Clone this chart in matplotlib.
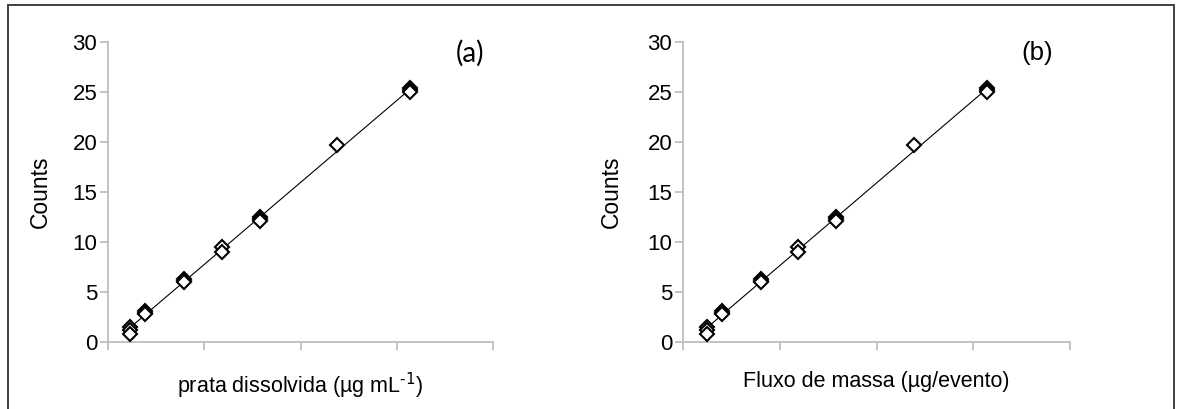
import numpy as np
import matplotlib
matplotlib.use("Agg")
import matplotlib.pyplot as plt
from matplotlib.patches import Rectangle

plt.rcParams['font.family'] = ['Liberation Sans', 'DejaVu Sans']

# Calibration data: replicate measurements at each level
conc_a = [0.23, 0.23, 0.23, 0.38, 0.38, 0.38, 0.79, 0.79, 0.79,
          1.18, 1.18, 1.58, 1.58, 1.58, 2.38, 3.14, 3.14, 3.14]
flux_b = [0.25, 0.25, 0.25, 0.40, 0.40, 0.40, 0.81, 0.81, 0.81,
          1.19, 1.19, 1.58, 1.58, 1.58, 2.39, 3.14, 3.14, 3.14]
counts = [1.5, 1.2, 0.8, 3.1, 2.9, 2.8, 6.3, 6.1, 6.0,
          9.5, 9.0, 12.5, 12.3, 12.1, 19.7, 25.4, 25.2, 25.0]

y_ticks = [0, 5, 10, 15, 20, 25, 30]
x_ticks = [0, 1, 2, 3, 4]

W, H = 1178, 409
fig = plt.figure(figsize=(W / 100, H / 100), dpi=100)

def px_axes(x0, x1, y0, y1):
    return fig.add_axes([x0 / W, 1 - y1 / H, (x1 - x0) / W, (y1 - y0) / H])

ax_a = px_axes(108, 493, 42, 342)
ax_b = px_axes(683, 1070, 42, 342)

panels = [
    (ax_a, conc_a, r'prata dissolvida (µg mL$^{\text{-1}}$)', '(a)',
     ['Lato'], 20, 0.94, -0.145),
    (ax_b, flux_b, 'Fluxo de massa (µg/evento)', '(b)',
     ['Liberation Sans'], 18.5, 0.915, -0.155),
]

spine_c = '#BEBEBE'
fs = 15.5
for ax, xv, xlabel, tag, tag_font, tag_size, tag_x, ylab_x in panels:
    xv = np.asarray(xv)
    yv = np.asarray(counts)
    slope, icpt = np.polyfit(xv, yv, 1)
    xs = np.array([xv.min(), xv.max()])
    ax.plot(xs, slope * xs + icpt, color='black', lw=0.8, zorder=2)
    ax.plot(xv, yv, linestyle='none', marker='D', ms=7.5, mfc='white',
            mec='black', mew=1.5, zorder=3)

    ax.set_xlim(0, 4)
    ax.set_ylim(0, 30)
    ax.set_xticks(x_ticks)
    ax.set_xticklabels([])
    ax.set_yticks(y_ticks)
    ax.tick_params(axis='both', direction='out', length=5.8, width=1.3,
                   color=spine_c, labelsize=fs + 0.5, pad=2.0)
    for s in ('top', 'right'):
        ax.spines[s].set_visible(False)
    for s in ('left', 'bottom'):
        ax.spines[s].set_color(spine_c)
        ax.spines[s].set_linewidth(1.3)

    ax.set_ylabel('Counts', fontsize=fs + 1)
    ax.yaxis.set_label_coords(ylab_x, 0.5)
    ax.set_xlabel(xlabel, fontsize=fs)
    ax.xaxis.set_label_coords(0.5, -0.097)

    ax.text(tag_x, 0.963, tag, transform=ax.transAxes, ha='center', va='center',
            fontsize=tag_size, family=tag_font + ['DejaVu Sans'])

# Outer frame
fig.patches.append(Rectangle((8 / W, -0.05), (1174 - 8) / W, 1 - 5 / H + 0.05,
                             transform=fig.transFigure, fill=False,
                             edgecolor='#404040', lw=1.4))

fig.savefig('out.png', dpi=100)
